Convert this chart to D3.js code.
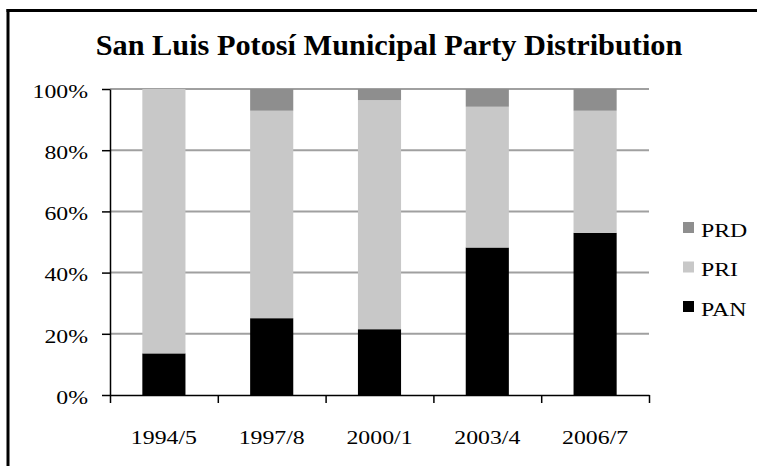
<!DOCTYPE html>
<html>
<head>
<meta charset="utf-8">
<script src="https://cdn.jsdelivr.net/npm/d3@7"></script>
<style>
  html, body { margin: 0; padding: 0; background: #fff; }
  svg { display: block; }
  svg text { font-family: "Liberation Serif", "Times New Roman", Times, Tinos, serif !important; fill: #000; }
</style>
</head>
<body>
<svg id="chart" width="757" height="466"></svg>
<script>
const categories = ["1994/5", "1997/8", "2000/1", "2003/4", "2006/7"];
const seriesNames = ["PAN", "PRI", "PRD"];
const panValues = [13.6, 25.1, 21.5, 48.2, 53.0];
const priValues = [86.4, 67.8, 74.9, 46.0, 39.9];
const prdValues = [0.0, 7.1, 3.6, 5.8, 7.1];
const yTicks = [0, 20, 40, 60, 80, 100];
const colors = { PAN: "#000000", PRI: "#c8c8c8", PRD: "#8e8e8e" };
const titleText = "San Luis Potosí Municipal Party Distribution";
const legendOrder = ["PRD", "PRI", "PAN"];

const rows = categories.map((c, i) => ({ cat: c, PAN: panValues[i], PRI: priValues[i], PRD: prdValues[i] }));

const svg = d3.select("#chart");
const W = 757, H = 466;
const m = { left: 110, right: 757 - 649, top: 89, bottom: 466 - 395 };
const innerW = W - m.left - m.right, innerH = H - m.top - m.bottom;
const FONT = '"Liberation Serif", "Times New Roman", Times, Tinos, serif';

// frame lines
svg.append("line").attr("x1", 8).attr("x2", 8).attr("y1", 9).attr("y2", H)
  .attr("stroke", "#000").attr("stroke-width", 3);
svg.append("line").attr("x1", 6.5).attr("x2", W).attr("y1", 10.5).attr("y2", 10.5)
  .attr("stroke", "#000").attr("stroke-width", 3);

// title
svg.append("text").attr("class", "title").attr("x", 389).attr("y", 55).attr("text-anchor", "middle")
  .attr("font-family", FONT)
  .attr("font-size", 30.3).attr("font-weight", "bold").text(titleText);

const g = svg.append("g").attr("transform", `translate(${m.left},${m.top})`);

const x = d3.scaleBand().domain(categories).range([0, innerW]).paddingInner(0.6).paddingOuter(0.3);
const xEdges = d3.scaleLinear().domain([0, categories.length]).range([0, innerW]);
const y = d3.scaleLinear().domain([0, 100]).range([innerH, 0]);

// gridlines
g.append("g").selectAll("line").data(yTicks.filter(t => t > 0)).join("line")
  .attr("x1", 0).attr("x2", innerW).attr("y1", d => y(d)).attr("y2", d => y(d))
  .attr("stroke", "#a0a0a0").attr("stroke-width", 2);

// stacked bars
const stack = d3.stack().keys(seriesNames)(rows);
g.append("g").selectAll("g").data(stack).join("g")
  .attr("fill", d => colors[d.key])
  .selectAll("rect").data(d => d).join("rect")
  .attr("x", d => x(d.data.cat))
  .attr("width", x.bandwidth())
  .attr("y", d => y(d[1]))
  .attr("height", d => y(d[0]) - y(d[1]));

// y axis
const yAxis = g.append("g").call(d3.axisLeft(y).tickValues(yTicks).tickFormat(d => d + "%").tickSize(8).tickSizeOuter(0));
yAxis.attr("font-family", FONT);
yAxis.select(".domain").attr("stroke", "#000").attr("stroke-width", 1.5);
yAxis.selectAll(".tick line").attr("stroke", "#000").attr("stroke-width", 1.5);
yAxis.selectAll(".tick text").attr("font-size", 19.5)
  .attr("x", -22).attr("dy", "0.42em");

// x axis edge ticks
const xAxisTicks = g.append("g").attr("transform", `translate(0,${innerH})`)
  .call(d3.axisBottom(xEdges).tickValues(d3.range(categories.length + 1)).tickFormat("").tickSize(8).tickSizeOuter(0));
xAxisTicks.select(".domain").attr("stroke", "#000").attr("stroke-width", 1.5);
xAxisTicks.selectAll(".tick line").attr("stroke", "#000").attr("stroke-width", 1.5);

// x labels
const xLabels = g.append("g").attr("transform", `translate(0,${innerH})`)
  .call(d3.axisBottom(x).tickSize(0));
xLabels.attr("font-family", FONT);
xLabels.select(".domain").remove();
xLabels.selectAll(".tick text").attr("font-size", 19.5)
  .attr("y", 49).attr("dy", "0");

// legend
const legend = svg.append("g").attr("transform", "translate(683,222)").attr("font-family", FONT);
const li = legend.selectAll("g").data(legendOrder).join("g")
  .attr("transform", (d, i) => `translate(0,${i * 39.5})`);
li.append("rect").attr("width", 11).attr("height", 11).attr("fill", d => colors[d]);
li.append("text").attr("x", 18).attr("y", 14.5).attr("font-size", 19.5).text(d => d);

// widen label glyphs to match reference proportions
svg.selectAll("text").filter(function () { return this.getAttribute("class") !== "title"; })
  .each(function () {
    const len = this.getComputedTextLength();
    if (len > 0) {
      d3.select(this).attr("textLength", len * 1.22).attr("lengthAdjust", "spacingAndGlyphs");
    }
  });
</script>
</body>
</html>
